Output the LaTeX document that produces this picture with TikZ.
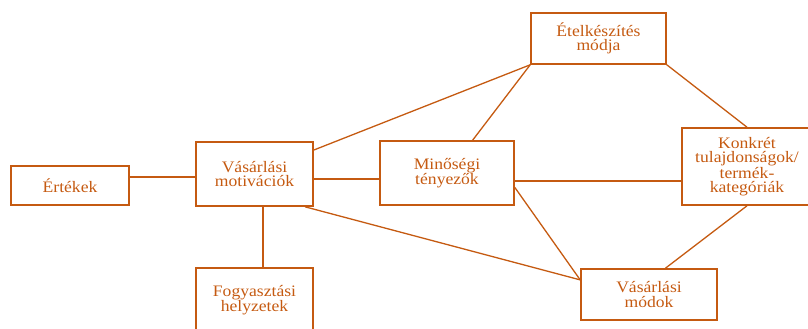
\documentclass[tikz,border=0pt]{standalone}
\usepackage{fontspec}
\setmainfont[FakeStretch=1.1]{Liberation Serif}
\usepackage{tikz}
\definecolor{brn}{RGB}{197,90,17}
\tikzset{
         box/.style=
          {
           draw=brn,line width=1.6pt,text=brn,align=center,
           inner sep=0pt,
           font=\fontsize{16pt}{14.5pt}\selectfont
          },
         link/.style={draw=brn,line width=1.3pt},
         hlink/.style={draw=brn,line width=1.8pt}
        }

\begin{document}
\begin{tikzpicture}[x=1pt,y=-1pt]
\useasboundingbox(0,0)rectangle(808,329);
\clip(0,0)rectangle(808,329);
%boxes
\node[box,minimum width=118pt,minimum height=39pt](ert)at(70,185.5){Értékek};
\node[box,minimum width=117pt,minimum height=64pt](mot)at(254.5,174){Vásárlási\\motivációk};
\node[box,minimum width=117pt,minimum height=64pt](fog)at(254.5,300){Fogyasztási\\helyzetek};
\node[box,minimum width=134pt,minimum height=64pt](min)at(447,173){Minőségi\\tényezők};
\node[box,minimum width=135pt,minimum height=51pt](etel)at(598.5,38.5){Ételkészítés\\módja};
\node[box,minimum width=130pt,minimum height=77pt](konk)at(747,166.5){Konkrét\\tulajdonságok/\\termék-\\kategóriák};
\node[box,minimum width=136pt,minimum height=51pt](mod)at(649,294.5){Vásárlási\\módok};
%lines
\draw[hlink](ert.8)--(ert.8-|mot.west);
\draw[hlink](mot.-5)--(mot.-5-|min.west);
\draw[hlink]([xshift=8.5pt]mot.south)--([xshift=8.5pt]fog.north);
\draw[hlink](min.-7)--(min.-7-|konk.west);
\foreach \a/\b in {mot.22/etel.south west,min.52/etel.south west,mot.-33/mod.168,
min.-12/mod.168,etel.south east/konk.north,konk.south/mod.58}{
\draw[link](\a)--(\b);
}
\end{tikzpicture}
\end{document}
